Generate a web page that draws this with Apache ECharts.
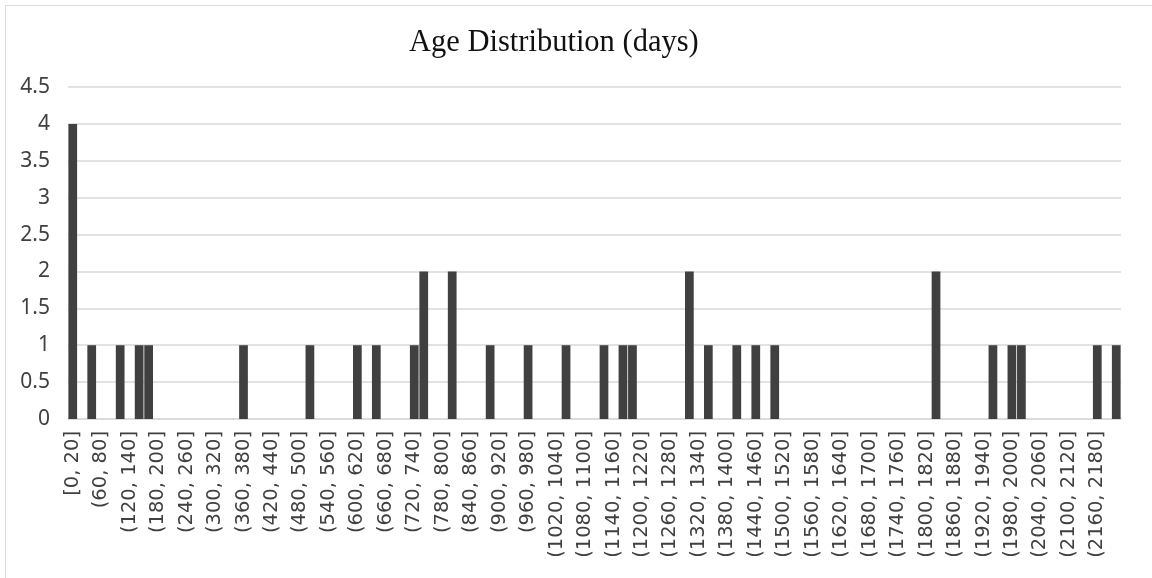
<!DOCTYPE html>
<html>
<head>
<meta charset="utf-8">
<script src="https://cdn.jsdelivr.net/npm/echarts@6/dist/echarts.min.js"></script>
<style>
  html, body { margin: 0; padding: 0; background: #ffffff; }
  #chart { width: 1152px; height: 578px; }
</style>
</head>
<body>
<div id="chart"></div>
<script>
// Histogram bins: 20-day buckets, [0, 20] then (20, 40], ... up to (2200, 2220]
var binWidth = 20;
var binCount = 111;
var categories = [];
for (var i = 0; i < binCount; i++) {
  var lo = i * binWidth, hi = lo + binWidth;
  categories.push(i === 0 ? '[' + lo + ', ' + hi + ']' : '(' + lo + ', ' + hi + ']');
}

// Number of items falling in each bin
var counts = [
  4, 0, 1, 0, 0, 1, 0, 1, 1, 0,
  0, 0, 0, 0, 0, 0, 0, 0, 1, 0,
  0, 0, 0, 0, 0, 1, 0, 0, 0, 0,
  1, 0, 1, 0, 0, 0, 1, 2, 0, 0,
  2, 0, 0, 0, 1, 0, 0, 0, 1, 0,
  0, 0, 1, 0, 0, 0, 1, 0, 1, 1,
  0, 0, 0, 0, 0, 2, 0, 1, 0, 0,
  1, 0, 1, 0, 1, 0, 0, 0, 0, 0,
  0, 0, 0, 0, 0, 0, 0, 0, 0, 0,
  0, 2, 0, 0, 0, 0, 0, 1, 0, 1,
  1, 0, 0, 0, 0, 0, 0, 0, 1, 0,
  1
];

// Y axis range
var yMin = 0, yMax = 4.5, yStep = 0.5;

var chart = echarts.init(document.getElementById('chart'), null, { renderer: 'canvas' });
chart.setOption({
  animation: false,
  backgroundColor: '#ffffff',
  title: {
    text: 'Age Distribution (days)',
    left: 404,
    top: 22,
    textStyle: {
      fontFamily: 'Liberation Serif',
      fontSize: 30.5,
      fontWeight: 'normal',
      color: '#111111'
    }
  },
  graphic: [{
    type: 'rect',
    silent: true,
    shape: { x: 5.5, y: 5.5, width: 1170, height: 600 },
    style: { fill: 'none', stroke: '#d9d9d9', lineWidth: 1 }
  }],
  grid: { left: 68, right: 31, top: 87, bottom: 159, containLabel: false },
  xAxis: {
    type: 'category',
    data: categories,
    axisLine: { show: true, lineStyle: { color: '#d9d9d9', width: 1.5 } },
    axisTick: { show: false },
    axisLabel: {
      interval: 2,
      rotate: 90,
      margin: 12,
      fontFamily: 'DejaVu Sans',
      fontSize: 19.5,
      color: '#404040'
    }
  },
  yAxis: {
    type: 'value',
    min: yMin,
    max: yMax,
    interval: yStep,
    axisLine: { show: false },
    axisTick: { show: false },
    splitLine: { lineStyle: { color: '#d9d9d9', width: 1.5 } },
    axisLabel: {
      margin: 18,
      fontFamily: 'Noto Sans',
      fontSize: 21,
      color: '#404040'
    }
  },
  series: [{
    type: 'bar',
    data: counts,
    barCategoryGap: '8%',
    itemStyle: { color: '#404040' }
  }]
});
</script>
</body>
</html>
